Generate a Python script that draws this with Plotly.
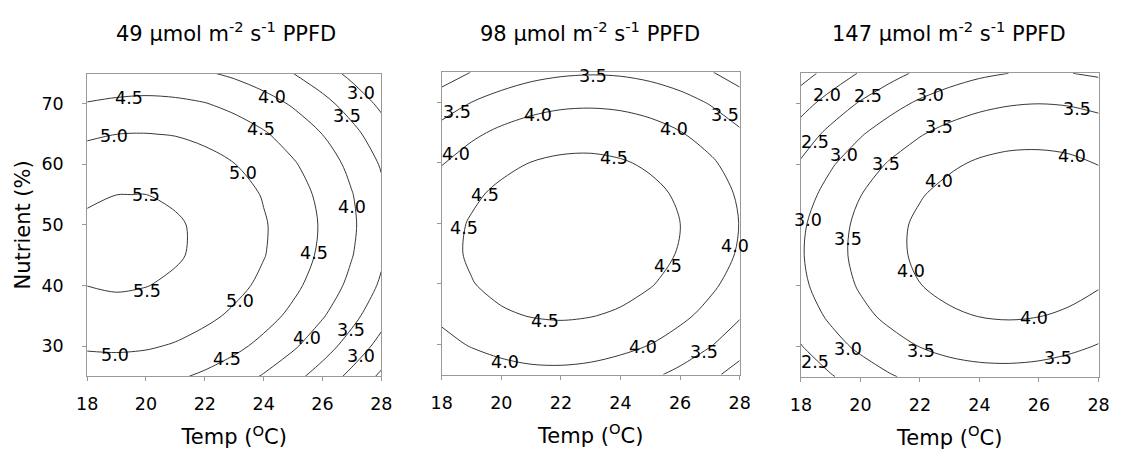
import plotly.graph_objects as go

# Grid of the response surface: temperature (x) and nutrient level (y)
temp_c = [18, 19, 20, 21, 22, 23, 24, 25, 26, 27, 28]
nutrient_pct = [25, 30, 35, 40, 45, 50, 55, 60, 65, 70, 75]

# Response values, one row per temperature, columns follow nutrient_pct
resp_49 = [
    [4.70, 5.06, 5.33, 5.503, 5.58, 5.56, 5.45, 5.24, 4.93, 4.53, 4.03],
    [4.71, 5.08, 5.36, 5.54, 5.62, 5.61, 5.499, 5.30, 4.999, 4.60, 4.12],
    [4.67, 5.05, 5.33, 5.51, 5.61, 5.60, 5.501, 5.31, 5.01, 4.63, 4.15],
    [4.57, 4.96, 5.25, 5.44, 5.54, 5.54, 5.45, 5.26, 4.98, 4.60, 4.12],
    [4.42, 4.81, 5.11, 5.31, 5.42, 5.43, 5.34, 5.16, 4.89, 4.52, 4.05],
    [4.22, 4.62, 4.92, 5.13, 5.25, 5.26, 5.19, 5.01, 4.74, 4.38, 3.92],
    [3.96, 4.37, 4.68, 4.90, 5.02, 5.04, 4.97, 4.81, 4.55, 4.19, 3.74],
    [3.65, 4.07, 4.39, 4.61, 4.74, 4.77, 4.71, 4.55, 4.30, 3.95, 3.504],
    [3.29, 3.71, 4.04, 4.27, 4.41, 4.45, 4.39, 4.24, 3.995, 3.65, 3.22],
    [2.87, 3.30, 3.64, 3.88, 4.02, 4.07, 4.02, 3.88, 3.64, 3.30, 2.88],
    [2.41, 2.84, 3.18, 3.43, 3.58, 3.64, 3.60, 3.46, 3.23, 2.90, 2.52],
]

resp_98 = [
    [3.52, 3.85, 4.11, 4.28, 4.35, 4.32, 4.20, 3.98, 3.67, 3.26, 2.75],
    [3.67, 4.04, 4.31, 4.48, 4.56, 4.54, 4.42, 4.21, 3.91, 3.505, 3.01],
    [3.80, 4.17, 4.45, 4.63, 4.71, 4.70, 4.59, 4.39, 4.09, 3.70, 3.20],
    [3.87, 4.25, 4.53, 4.72, 4.81, 4.81, 4.71, 4.51, 4.22, 3.83, 3.35],
    [3.88, 4.27, 4.56, 4.75, 4.85, 4.86, 4.76, 4.58, 4.29, 3.91, 3.43],
    [3.84, 4.23, 4.53, 4.74, 4.84, 4.85, 4.77, 4.59, 4.31, 3.93, 3.46],
    [3.74, 4.14, 4.45, 4.66, 4.77, 4.79, 4.71, 4.54, 4.27, 3.90, 3.44],
    [3.59, 3.999, 4.31, 4.53, 4.65, 4.68, 4.60, 4.44, 4.17, 3.82, 3.36],
    [3.38, 3.80, 4.12, 4.34, 4.47, 4.503, 4.44, 4.28, 4.02, 3.67, 3.23],
    [3.12, 3.54, 3.87, 4.10, 4.24, 4.28, 4.22, 4.07, 3.82, 3.47, 3.03],
    [2.80, 3.23, 3.56, 3.80, 3.95, 3.99, 3.94, 3.80, 3.56, 3.22, 2.79],
]

resp_147 = [
    [2.13, 2.48, 2.74, 2.90, 2.96, 2.93, 2.79, 2.56, 2.24, 1.81, 1.29],
    [2.46, 2.82, 3.08, 3.25, 3.32, 3.29, 3.17, 2.95, 2.63, 2.21, 1.69],
    [2.73, 3.10, 3.38, 3.55, 3.63, 3.61, 3.49, 3.27, 2.96, 2.55, 2.04],
    [2.96, 3.33, 3.61, 3.80, 3.88, 3.87, 3.76, 3.55, 3.24, 2.84, 2.34],
    [3.13, 3.51, 3.80, 3.99, 4.08, 4.08, 3.97, 3.77, 3.47, 3.08, 2.59],
    [3.25, 3.64, 3.93, 4.13, 4.23, 4.23, 4.13, 3.94, 3.65, 3.26, 2.78],
    [3.31, 3.71, 4.01, 4.22, 4.32, 4.33, 4.24, 4.06, 3.78, 3.39, 2.92],
    [3.32, 3.73, 4.04, 4.25, 4.36, 4.38, 4.30, 4.12, 3.85, 3.47, 3.002],
    [3.28, 3.70, 4.01, 4.23, 4.35, 4.38, 4.30, 4.13, 3.86, 3.498, 3.03],
    [3.19, 3.61, 3.93, 4.16, 4.29, 4.32, 4.25, 4.09, 3.83, 3.47, 3.01],
    [3.04, 3.47, 3.80, 4.03, 4.17, 4.21, 4.15, 3.995, 3.74, 3.39, 2.94],
]

# Contour levels that carry an inline label
label_levels_49 = [4.5, 5.0, 5.5, 5.5, 5.0, 4.0, 3.0, 3.5, 4.5, 5.0,
                   4.0, 4.5, 5.0, 4.0, 3.5, 3.0, 4.5]
label_levels_98 = [3.5, 3.5, 4.0, 3.5, 4.0, 4.0, 4.5, 4.5, 4.5, 4.0,
                   4.5, 4.5, 4.0, 3.5, 4.0]
label_levels_147 = [2.0, 2.5, 3.0, 3.5, 3.5, 2.5, 3.0, 3.5, 4.0, 4.0,
                    3.0, 3.5, 4.0, 4.0, 3.0, 3.5, 3.5, 2.5]

panel_titles = [
    "49 \u00b5mol m<sup>-2</sup> s<sup>-1</sup> PPFD",
    "98 \u00b5mol m<sup>-2</sup> s<sup>-1</sup> PPFD",
    "147 \u00b5mol m<sup>-2</sup> s<sup>-1</sup> PPFD",
]
x_ticks = [18, 20, 22, 24, 26, 28]
y_ticks = [30, 40, 50, 60, 70]

# ---- layout / styling ----
FONT = "DejaVu Sans, Arial, sans-serif"
W, H = 1121, 452
FRAME = "#999999"
LINE = "#222222"

# panel boxes in pixels: (left, right, top, bottom)
boxes = [
    (77.7, 377.7, 73.5, 376.3),
    (439.3, 743.3, 72.3, 374.6),
    (805.7, 1109.3, 73.3, 376.7),
]

# where each inline label sits (temperature, nutrient), in the same order
# as the label_levels lists above
label_spots = [
    [(19.41, 71.0), (18.91, 64.7), (19.99, 54.9), (20.02, 39.1), (18.94, 28.5),
     (24.3, 71.2), (27.3, 71.7), (26.85, 68.0), (23.91, 65.9), (23.3, 58.6),
     (27.02, 52.9), (25.72, 45.3), (23.19, 37.4), (25.47, 31.3), (26.97, 32.7),
     (27.3, 28.4), (22.77, 27.8)],
    [(23.07, 74.4), (18.52, 68.4), (21.22, 68.0), (27.51, 68.0), (25.81, 65.6),
     (18.48, 61.5), (23.78, 60.8), (19.45, 54.7), (18.74, 49.2), (27.84, 46.3),
     (25.59, 43.0), (21.48, 33.9), (24.77, 29.5), (26.8, 28.8), (20.13, 27.1)],
    [(18.89, 71.4), (20.26, 71.2), (22.33, 71.4), (27.26, 69.1), (22.64, 66.2),
     (18.47, 63.6), (19.46, 61.6), (20.87, 60.1), (27.11, 61.3), (22.64, 57.2),
     (18.25, 50.9), (19.59, 47.7), (21.71, 42.4), (25.83, 34.7), (19.59, 29.6),
     (22.04, 29.3), (26.65, 28.1), (18.47, 27.5)],
]

fig = go.Figure()
surfaces = [resp_49, resp_98, resp_147]
levels = [label_levels_49, label_levels_98, label_levels_147]

for i, (zvals, box) in enumerate(zip(surfaces, boxes)):
    sfx = "" if i == 0 else str(i + 1)
    fig.add_trace(go.Contour(
        x=temp_c, y=nutrient_pct, z=zvals, transpose=True,
        xaxis="x" + sfx, yaxis="y" + sfx,
        autocontour=False,
        contours=dict(start=1.5, end=6.0, size=0.5, coloring="none",
                      showlabels=False),
        line=dict(color=LINE, width=0.9, smoothing=0.9),
        showscale=False, hoverinfo="skip",
    ))
    l, r, t, b = box
    xdom = [l / W, r / W]
    ydom = [1 - b / H, 1 - t / H]
    xa = dict(domain=xdom, range=[18, 28], tickvals=x_ticks, ticks="outside",
              ticklen=4, tickcolor=FRAME, showline=True, linecolor=FRAME,
              linewidth=1, mirror=True, showgrid=False, zeroline=False,
              tickfont=dict(family=FONT, size=17.5, color="black"),
              ticklabelstandoff=8,
              anchor="y" + sfx,
              title=dict(text="Temp (<sup>O</sup>C)", standoff=16,
                         font=dict(family=FONT, size=21, color="black")))
    ya = dict(domain=ydom, range=[25, 75], tickvals=y_ticks, ticks="outside",
              ticklen=4, tickcolor=FRAME, showline=True, linecolor=FRAME,
              linewidth=1, mirror=True, showgrid=False, zeroline=False,
              showticklabels=(i == 0),
              tickfont=dict(family=FONT, size=17.5, color="black"),
              ticklabelstandoff=15,
              anchor="x" + sfx)
    if i == 0:
        ya["title"] = dict(text="Nutrient (%)", standoff=5,
                           font=dict(family=FONT, size=21, color="black"))
    fig.layout["xaxis" + sfx] = xa
    fig.layout["yaxis" + sfx] = ya

    # inline contour labels, horizontal, written over the lines
    for lev, (tx, ny) in zip(levels[i], label_spots[i]):
        fig.add_annotation(text=f"{lev:.1f}", x=tx, y=ny,
                           xref="x" + sfx, yref="y" + sfx,
                           showarrow=False, xanchor="center", yanchor="middle",
                           font=dict(family=FONT, size=17.5, color="black"))

title_cx = [219, 591, 957]
for txt, cx in zip(panel_titles, title_cx):
    fig.add_annotation(text=txt, xref="paper", yref="paper", x=cx / W,
                       y=1 - 32 / H, xanchor="center", yanchor="middle",
                       showarrow=False,
                       font=dict(family=FONT, size=21, color="black"))

fig.update_layout(width=W, height=H, margin=dict(l=0, r=0, t=0, b=0),
                  paper_bgcolor="white", plot_bgcolor="white",
                  showlegend=False)

fig.write_html("out.html")
